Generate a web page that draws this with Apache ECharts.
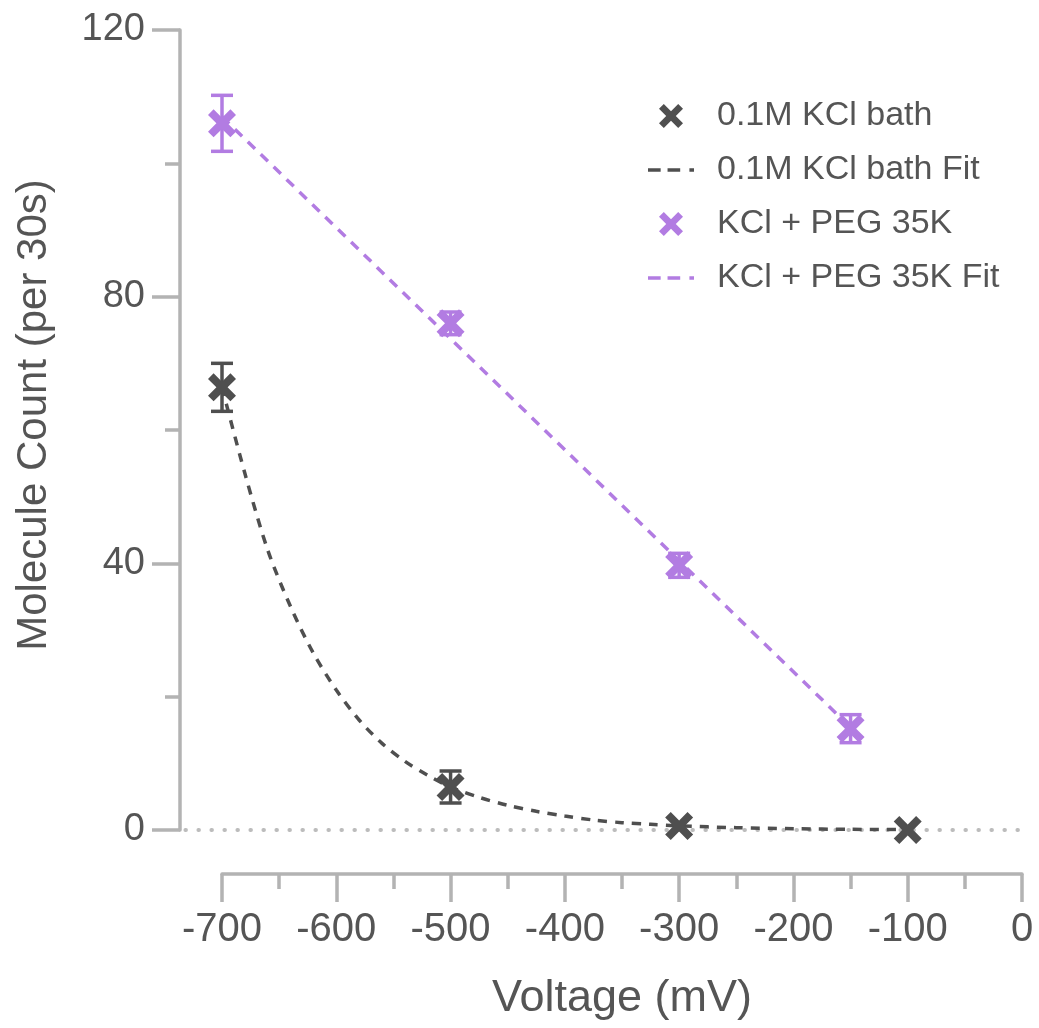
<!DOCTYPE html>
<html>
<head>
<meta charset="utf-8">
<script src="https://cdn.jsdelivr.net/npm/echarts@6/dist/echarts.min.js"></script>
<style>
  html, body { margin: 0; padding: 0; background: #fff; }
  #chart { width: 1039px; height: 1028px; }
</style>
</head>
<body>
<div id="chart"></div>
<script>
// Voltage (mV) at which each condition was measured
const kclVoltage = [-700, -500, -300, -100];
const kclMean = [66.4, 6.45, 0.6, 0.0];
const kclErr = [3.6, 2.4, 0.0, 0.0];

const pegVoltage = [-700, -500, -300, -150];
const pegMean = [106.0, 76.0, 39.7, 15.2];
const pegErr = [4.2, 1.7, 1.8, 2.1];

// Exponential fit of the KCl bath counts (points along the fitted curve)
const kclFitX = [-700, -680, -660, -640, -620, -600, -580, -560, -540, -520, -500, -475, -450, -425, -400, -375, -350, -325, -300, -250, -200, -150, -100];
const kclFitY = [66.4, 53.5, 42.0, 33.5, 26.5, 21.0, 16.5, 13.0, 10.3, 8.2, 6.45, 4.9, 3.7, 2.8, 2.1, 1.5, 1.1, 0.85, 0.62, 0.35, 0.19, 0.1, 0.06];

// Linear fit of the KCl + PEG 35K counts
const pegFitX = [-700, -150];
const pegFitY = [107.0, 15.4];

// Baseline at zero counts, running from the y axis to the end of the x axis
const baselineX = [-732, 0];
const baselineY = [0, 0];

const xTicks = [-700, -600, -500, -400, -300, -200, -100, 0];
const yTicks = [0, 40, 80, 120];

const DARK = '#4f4f4f';
const PURPLE = '#b27ce2';
const AXIS = '#b3b3b3';
const TEXT = '#555555';
const FONT = '"Liberation Sans", Arial, sans-serif';

const CROSS = 'path://M2,0 L5,3 L8,0 L10,2 L7,5 L10,8 L8,10 L5,7 L2,10 L0,8 L3,5 L0,2 Z';
// Legend glyph for the fitted curves: two dashes and a dot
const DASH_ICON = 'path://M0,0 L11,0 L11,3.2 L0,3.2 Z M17,0 L28,0 L28,3.2 L17,3.2 Z M36,0 L40,0 L40,3.2 L36,3.2 Z';

function pairs(xs, ys) { return xs.map((x, i) => [x, ys[i]]); }
function errData(xs, m, e) { return xs.map((x, i) => [x, m[i] - e[i], m[i] + e[i]]); }

function errorBars(color) {
  return function (params, api) {
    const x = api.value(0);
    const lo = api.coord([x, api.value(1)]);
    const hi = api.coord([x, api.value(2)]);
    const half = 11;
    const style = { stroke: color, lineWidth: 3.5, fill: 'none' };
    if (Math.abs(hi[1] - lo[1]) < 1) return { type: 'group', children: [] };
    return {
      type: 'group',
      children: [
        { type: 'line', shape: { x1: lo[0], y1: lo[1], x2: hi[0], y2: hi[1] }, style },
        { type: 'line', shape: { x1: lo[0] - half, y1: lo[1], x2: lo[0] + half, y2: lo[1] }, style },
        { type: 'line', shape: { x1: hi[0] - half, y1: hi[1], x2: hi[0] + half, y2: hi[1] }, style }
      ]
    };
  };
}

// Dotted zero line drawn through the axis scales; allowed to extend past the grid edge
function baselineItem(params, api) {
  if (params.dataIndex !== 0) return { type: 'group', children: [] };
  const a = api.coord([baselineX[0], baselineY[0]]);
  const b = api.coord([baselineX[1], baselineY[1]]);
  return {
    type: 'line',
    shape: { x1: a[0], y1: a[1], x2: b[0], y2: b[1] },
    style: { stroke: '#bcbcbc', lineWidth: 4, lineDash: [0.5, 12.5], lineCap: 'round' }
  };
}

const chart = echarts.init(document.getElementById('chart'), null, { renderer: 'canvas' });

chart.setOption({
  animation: false,
  backgroundColor: '#ffffff',
  textStyle: { fontFamily: FONT },
  grid: { left: 222, right: 17, top: 30, bottom: 198, containLabel: false },
  legend: {
    orient: 'vertical',
    left: 643,
    top: 94,
    itemWidth: 46,
    itemHeight: 24,
    itemGap: 20,
    data: [
      { name: '0.1M KCl bath', icon: CROSS },
      { name: '0.1M KCl bath Fit', icon: DASH_ICON },
      { name: 'KCl + PEG 35K', icon: CROSS },
      { name: 'KCl + PEG 35K Fit', icon: DASH_ICON }
    ],
    textStyle: { fontSize: 34, color: TEXT, fontFamily: FONT, padding: [0, 0, 0, 18] }
  },
  xAxis: {
    type: 'value',
    min: -700,
    max: 0,
    interval: 100,
    offset: 44,
    name: 'Voltage (mV)',
    nameLocation: 'middle',
    nameGap: 102,
    nameTextStyle: { fontSize: 45, color: TEXT, fontFamily: FONT },
    axisLine: { show: true, onZero: false, lineStyle: { color: AXIS, width: 3.5 } },
    axisTick: { show: true, length: 28, lineStyle: { color: AXIS, width: 3.5 } },
    minorTick: { show: true, splitNumber: 2, length: 15, lineStyle: { color: AXIS, width: 3.5 } },
    axisLabel: {
      margin: 36, fontSize: 40, color: TEXT, fontFamily: FONT,
      formatter: v => (xTicks.includes(v) ? String(v) : '')
    },
    splitLine: { show: false }
  },
  yAxis: {
    type: 'value',
    min: 0,
    max: 120,
    interval: 40,
    offset: 42,
    name: 'Molecule Count (per 30s)',
    nameLocation: 'middle',
    nameGap: 125,
    nameTextStyle: { fontSize: 42, color: TEXT, fontFamily: FONT, padding: [0, 0, 0, 30] },
    axisLine: { show: true, onZero: false, lineStyle: { color: AXIS, width: 3.5 } },
    axisTick: { show: true, length: 28, lineStyle: { color: AXIS, width: 3.5 } },
    minorTick: { show: true, splitNumber: 2, length: 15, lineStyle: { color: AXIS, width: 3.5 } },
    axisLabel: {
      margin: 35, fontSize: 38, color: TEXT, fontFamily: FONT,
      formatter: v => (yTicks.includes(v) ? String(v) : '')
    },
    splitLine: { show: false }
  },
  series: [
    {
      name: 'baseline',
      type: 'custom',
      data: pairs(baselineX, baselineY),
      renderItem: baselineItem,
      clip: false,
      silent: true,
      z: 1
    },
    {
      name: '0.1M KCl bath Fit',
      type: 'line',
      data: pairs(kclFitX, kclFitY),
      smooth: 0.3,
      symbol: 'none',
      z: 2,
      lineStyle: { color: DARK, width: 3.5, type: [9, 8] },
      itemStyle: { color: DARK }
    },
    {
      name: 'KCl + PEG 35K Fit',
      type: 'line',
      data: pairs(pegFitX, pegFitY),
      symbol: 'none',
      z: 2,
      lineStyle: { color: PURPLE, width: 3.5, type: [10, 8] },
      itemStyle: { color: PURPLE }
    },
    {
      name: 'kcl-err',
      type: 'custom',
      data: errData(kclVoltage, kclMean, kclErr),
      renderItem: errorBars(DARK),
      z: 3,
      silent: true
    },
    {
      name: 'peg-err',
      type: 'custom',
      data: errData(pegVoltage, pegMean, pegErr),
      renderItem: errorBars(PURPLE),
      z: 3,
      silent: true
    },
    {
      name: '0.1M KCl bath',
      type: 'scatter',
      data: pairs(kclVoltage, kclMean),
      symbol: CROSS,
      symbolSize: 28,
      z: 4,
      itemStyle: { color: DARK, opacity: 1 }
    },
    {
      name: 'KCl + PEG 35K',
      type: 'scatter',
      data: pairs(pegVoltage, pegMean),
      symbol: CROSS,
      symbolSize: 28,
      z: 4,
      itemStyle: { color: PURPLE, opacity: 1 }
    }
  ]
});
</script>
</body>
</html>
